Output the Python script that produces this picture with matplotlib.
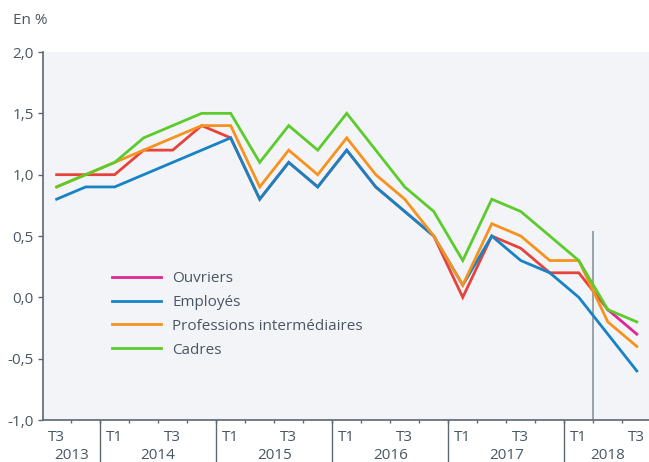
import matplotlib
matplotlib.use("Agg")
import matplotlib.pyplot as plt
from matplotlib.transforms import blended_transform_factory
from matplotlib.lines import Line2D

plt.rcParams['font.family'] = ['Open Sans', 'DejaVu Sans']

# ---- data ----
quarters = ["T3", "T4",
            "T1", "T2", "T3", "T4",
            "T1", "T2", "T3", "T4",
            "T1", "T2", "T3", "T4",
            "T1", "T2", "T3", "T4",
            "T1", "T2", "T3"]
years = ["2013", "2014", "2015", "2016", "2017", "2018"]
year_counts = [2, 4, 4, 4, 4, 3]

ouvriers = [1.0, 1.0, 1.0, 1.2, 1.2, 1.4, 1.3, 0.8, 1.1, 0.9, 1.2, 0.9, 0.7,
            0.5, 0.0, 0.5, 0.4, 0.2, 0.2, -0.1, -0.3]
employes = [0.8, 0.9, 0.9, 1.0, 1.1, 1.2, 1.3, 0.8, 1.1, 0.9, 1.2, 0.9, 0.7,
            0.5, 0.1, 0.5, 0.3, 0.2, 0.0, -0.3, -0.6]
professions = [0.9, 1.0, 1.1, 1.2, 1.3, 1.4, 1.4, 0.9, 1.2, 1.0, 1.3, 1.0, 0.8,
               0.5, 0.1, 0.6, 0.5, 0.3, 0.3, -0.2, -0.4]
cadres = [0.9, 1.0, 1.1, 1.3, 1.4, 1.5, 1.5, 1.1, 1.4, 1.2, 1.5, 1.2, 0.9,
          0.7, 0.3, 0.8, 0.7, 0.5, 0.3, -0.1, -0.2]
ouvriers_forecast_start = 19      # index where the Ouvriers line turns magenta
forecast_marker_x = 18.5          # vertical separator position (quarter index)
forecast_marker_top = 0.53

yticks = [-1.0, -0.5, 0.0, 0.5, 1.0, 1.5, 2.0]
ytick_labels = ["-1,0", "-0,5", "0,0", "0,5", "1,0", "1,5", "2,0"]

# ---- style ----
c_red = "#e8423c"
c_mag = "#e0268f"
c_blue = "#1583c6"
c_orange = "#f7921e"
c_green = "#5ccb2c"
c_text = "#4a5663"
c_axis = "#5c6772"
bg = "#f2f4f7"
fs = 11

fig = plt.figure(figsize=(6.49, 4.62), dpi=100)
ax = fig.add_axes([43 / 649, 1 - 420 / 462, 1 - 43 / 649, (420 - 52) / 462])
ax.set_facecolor(bg)

x = list(range(len(quarters)))
lw = 2.0
s = ouvriers_forecast_start
ax.plot(x[:s + 1], ouvriers[:s + 1], color=c_red, lw=lw, solid_joinstyle='miter')
ax.plot(x[s:], ouvriers[s:], color=c_mag, lw=lw, solid_joinstyle='miter')
ax.plot(x, employes, color=c_blue, lw=lw, solid_joinstyle='miter')
ax.plot(x, professions, color=c_orange, lw=lw, solid_joinstyle='miter')
ax.plot(x, cadres, color=c_green, lw=lw, solid_joinstyle='miter')

ax.plot([forecast_marker_x, forecast_marker_x], [-1.0, forecast_marker_top],
        color="#9aa1a8", lw=1.4, zorder=1)

ax.set_xlim(-0.47, 20.42)
ax.set_ylim(-1.0, 2.0)

for sp in ["top", "right"]:
    ax.spines[sp].set_visible(False)
for sp in ["left", "bottom"]:
    ax.spines[sp].set_color(c_axis)
    ax.spines[sp].set_linewidth(1.2)

ax.set_yticks(yticks)
ax.set_yticklabels(ytick_labels)
ax.tick_params(axis='y', length=3.5, width=1.0, color=c_axis, labelcolor=c_text,
               labelsize=fs, pad=3)

# x ticks: small ticks at every quarter boundary
ax.set_xticks([i + 0.5 for i in x[:-1]], minor=False)
ax.set_xticklabels([])
ax.tick_params(axis='x', length=2.5, width=1.0, color=c_axis)

tr = blended_transform_factory(ax.transData, ax.transAxes)
# year separators and labels
start = 0
for yr, n in zip(years, year_counts):
    if start > 0:
        ax.add_line(Line2D([start - 0.5, start - 0.5], [0, -0.12], transform=tr,
                           color=c_axis, lw=1.0, clip_on=False))
    ax.text(start + (n - 1) / 2, -0.097, yr, transform=tr, ha='center', va='center',
            fontsize=fs, color=c_text)
    start += n
for i, q in enumerate(quarters):
    if q in ("T1", "T3"):
        ax.text(i, -0.047, q, transform=tr, ha='center', va='center',
                fontsize=fs, color=c_text)

fig.text(13 / 649, 1 - 20 / 462, "En %", fontsize=fs, color=c_text, va='center', ha='left')

handles = [Line2D([], [], color=c_mag, lw=lw),
           Line2D([], [], color=c_blue, lw=lw),
           Line2D([], [], color=c_orange, lw=lw),
           Line2D([], [], color=c_green, lw=lw)]
labels = ["Ouvriers", "Employés", "Professions intermédiaires", "Cadres"]
leg = ax.legend(handles, labels, loc='upper left',
                bbox_to_anchor=((112 - 43) / 606, (420 - 271) / 368),
                frameon=False, fontsize=fs, handlelength=3.2, handletextpad=0.75,
                labelspacing=0.58, borderpad=0, borderaxespad=0)
for t in leg.get_texts():
    t.set_color(c_text)

fig.savefig("out.png", dpi=100, facecolor="white")
